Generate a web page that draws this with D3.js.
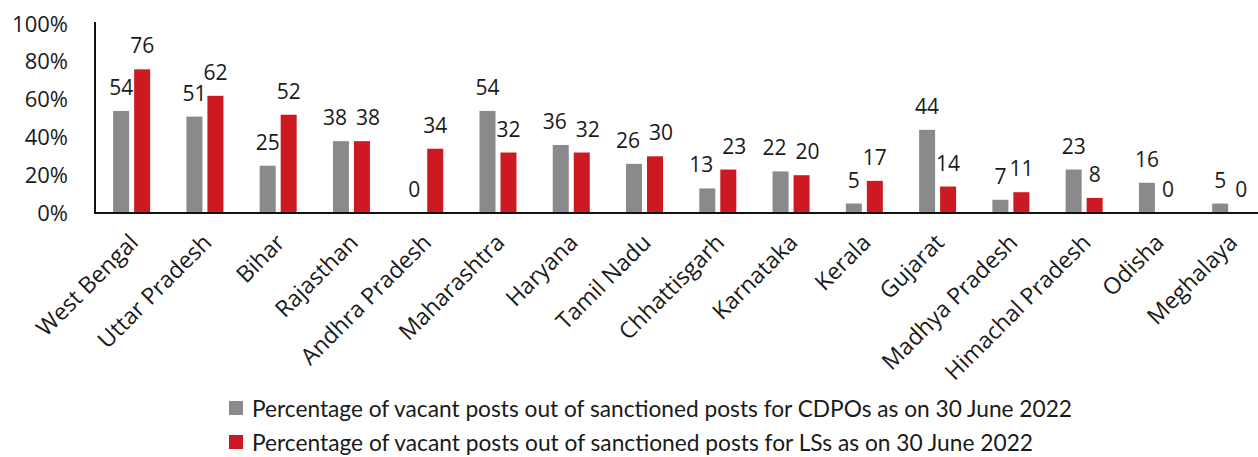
<!DOCTYPE html>
<html>
<head>
<meta charset="utf-8">
<script src="https://cdn.jsdelivr.net/npm/d3@7"></script>
<style>
  body { margin: 0; background: #fff; }
  svg { display: block; }
  .tick text { font-family: "Open Sans", sans-serif; }
</style>
</head>
<body>
<svg id="chart" width="1258" height="457"></svg>
<script>
// vacancies of CDPO / LS posts by state, 30 June 2022

var states = ["West Bengal", "Uttar Pradesh", "Bihar", "Rajasthan", "Andhra Pradesh",
  "Maharashtra", "Haryana", "Tamil Nadu", "Chhattisgarh", "Karnataka", "Kerala",
  "Gujarat", "Madhya Pradesh", "Himachal Pradesh", "Odisha", "Meghalaya"];

var cdpoValues = [54, 51, 25, 38, 0, 54, 36, 26, 13, 22, 5, 44, 7, 23, 16, 5];
var lsValues   = [76, 62, 52, 38, 34, 32, 32, 30, 23, 20, 17, 14, 11, 8, 0, 0];

var yTicks = [0, 20, 40, 60, 80, 100];

var seriesNames = [
  "Percentage of vacant posts out of sanctioned posts for CDPOs as on 30 June 2022",
  "Percentage of vacant posts out of sanctioned posts for LSs as on 30 June 2022"
];
var seriesKeys = ["cdpo", "ls"];
var colors = ["#8a8a8c", "#cd1a22"];

var svg = d3.select("#chart");

var x = d3.scaleBand().domain(states).range([95, 95 + 16 * 73.27]).padding(0);
var xSub = d3.scaleBand().domain(seriesKeys).range([-18.5, 18.5]).paddingInner(5 / 21);
var y = d3.scaleLinear().domain([0, 100]).range([213, 24]);

var rows = states.map(function(s, i) {
  return { state: s, cdpo: cdpoValues[i], ls: lsValues[i] };
});

// y axis labels, no ticks
var yAxis = svg.append("g")
    .attr("transform", "translate(68,0)")
    .call(d3.axisLeft(y).tickValues(yTicks).tickSize(0).tickPadding(0)
      .tickFormat(function(d) { return d + "%"; }));
yAxis.select(".domain").remove();
yAxis.selectAll("text")
    .attr("font-size", 22)
    .attr("fill", "#1a1a1a");

// bars
var groups = svg.selectAll(".grp")
  .data(rows)
  .enter().append("g")
    .attr("class", "grp")
    .attr("transform", function(d) { return "translate(" + (x(d.state) + x.bandwidth() / 2) + ",0)"; });

groups.selectAll("rect")
  .data(function(d) { return seriesKeys.map(function(k, i) { return { key: k, value: d[k], color: colors[i] }; }); })
  .enter().append("rect")
    .attr("x", function(d) { return xSub(d.key); })
    .attr("width", xSub.bandwidth())
    .attr("y", function(d) { return y(d.value); })
    .attr("height", function(d) { return y(0) - y(d.value); })
    .attr("fill", function(d) { return d.color; });

// value labels - push the pair apart when they would collide
function labelShift(row, key) {
  var a = String(row.cdpo), b = String(row.ls);
  var close = Math.abs(y(row.cdpo) - y(row.ls)) < 20 && a.length > 1 && b.length > 1;
  if (!close) return 0;
  return key == "cdpo" ? -6 : 6;
}

groups.selectAll("text.val")
  .data(function(d) { return seriesKeys.map(function(k) { return { key: k, value: d[k], row: d }; }); })
  .enter().append("text")
    .attr("class", "val")
    .attr("x", function(d) { return xSub(d.key) + xSub.bandwidth() / 2 + labelShift(d.row, d.key); })
    .attr("y", function(d) { return y(d.value) - 16; })
    .attr("text-anchor", "middle")
    .style("font", "21px 'Open Sans', sans-serif")
    .attr("fill", "#1a1a1a")
    .text(function(d) { return d.value; });

// axes lines
svg.append("line")
    .attr("x1", 95).attr("x2", 95)
    .attr("y1", 22).attr("y2", y(0))
    .attr("stroke", "#111").attr("stroke-width", 2);
svg.append("line")
    .attr("x1", 94).attr("x2", 1258)
    .attr("y1", y(0)).attr("y2", y(0))
    .attr("stroke", "#111").attr("stroke-width", 2);

// category labels, rotated
svg.selectAll(".cat")
  .data(states)
  .enter().append("text")
    .attr("class", "cat")
    .attr("text-anchor", "end")
    .attr("transform", function(d) {
      return "translate(" + (x(d) + x.bandwidth() / 2 + 8) + ",244) rotate(-45)";
    })
    .style("font", "23px 'Open Sans', sans-serif")
    .attr("fill", "#1a1a1a")
    .text(function(d) { return d; });

// legend
var legend = svg.append("g");
var legendY = [401, 435];
var legendLen = [820, 781];
seriesNames.forEach(function(name, i) {
  legend.append("rect")
      .attr("x", 229).attr("y", legendY[i])
      .attr("width", 14).attr("height", 14)
      .attr("fill", colors[i]);
  legend.append("text")
      .attr("x", 252).attr("y", legendY[i] + 16)
      .attr("textLength", legendLen[i])
      .attr("lengthAdjust", "spacingAndGlyphs")
      .style("font", "24px Lato, sans-serif")
      .attr("fill", "#1a1a1a")
      .text(name);
});
</script>
</body>
</html>
